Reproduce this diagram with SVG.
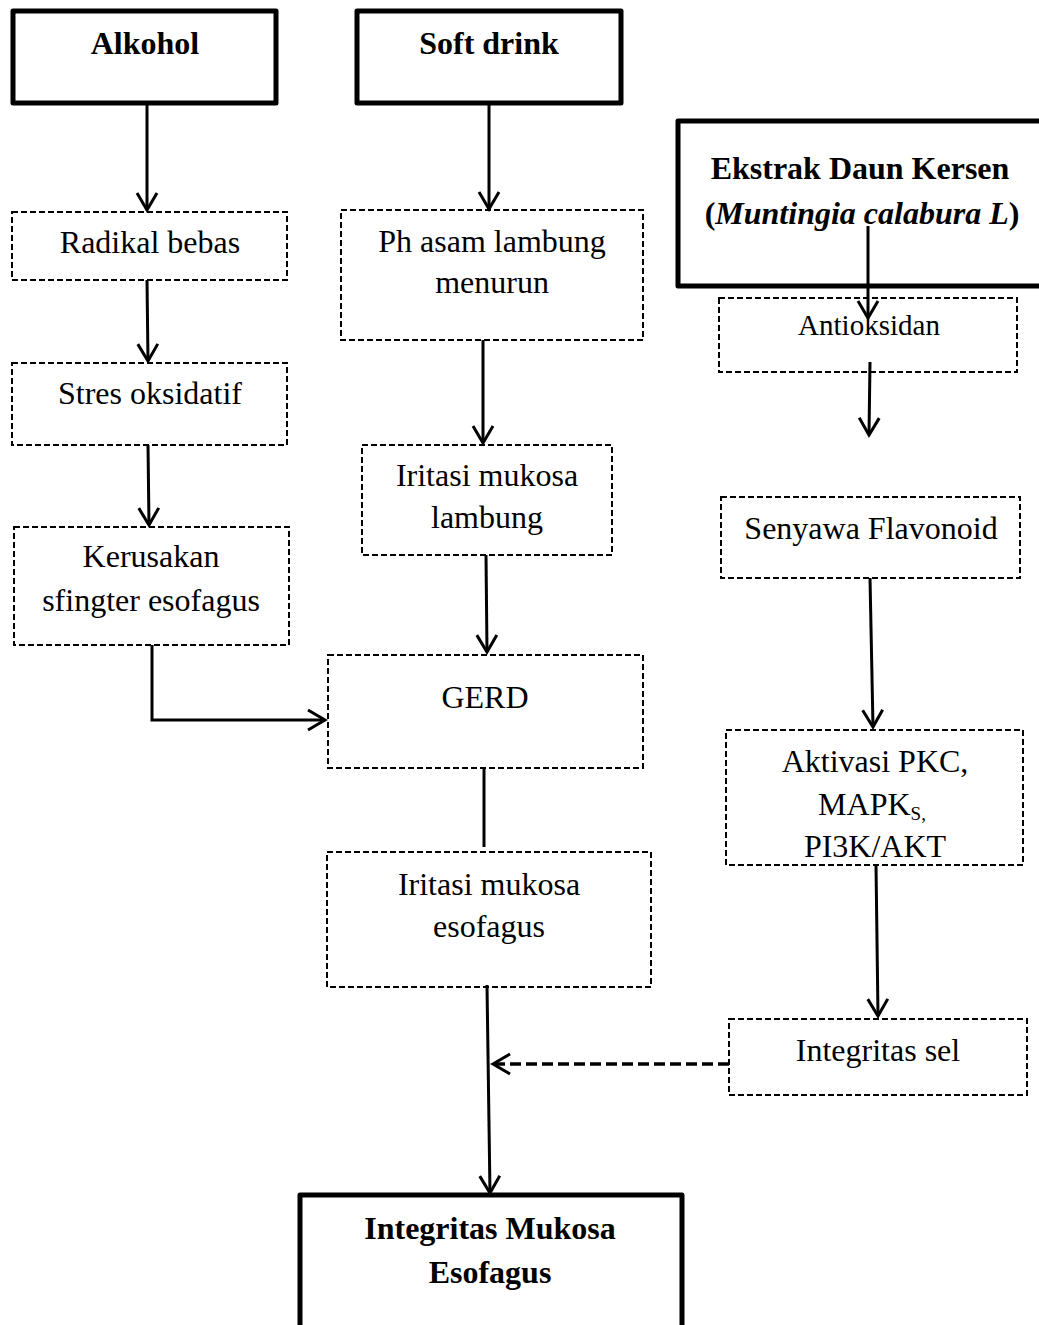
<svg xmlns="http://www.w3.org/2000/svg" width="1039" height="1325" viewBox="0 0 1039 1325">
<style>
.thick{fill:#fff;stroke:#000;stroke-width:5;stroke-linejoin:round}
.dash{fill:#fff;stroke:#000;stroke-width:2;stroke-dasharray:6,3}
.t{font-family:"Liberation Serif","Times New Roman",serif;font-size:32px;fill:#000;text-anchor:middle}
.b{font-weight:bold}
.s{font-size:29px}
.c{fill:none;stroke:#000;stroke-width:3}
.cd{fill:none;stroke:#000;stroke-width:3.5;stroke-dasharray:11,5}
</style>
<defs>
<marker id="ah" markerUnits="userSpaceOnUse" markerWidth="24" markerHeight="24" viewBox="0 0 24 24" refX="20" refY="12" orient="auto">
<path d="M3,2 L20,12 L3,22" fill="none" stroke="#000" stroke-width="3"/>
</marker>
</defs>
<g id="alkohol"><rect class="thick" x="13" y="11" width="263" height="92"/><text class="t b" x="145" y="54">Alkohol</text></g>
<g id="softdrink"><rect class="thick" x="357" y="11" width="264" height="92"/><text class="t b" x="489" y="54">Soft drink</text></g>
<g id="ekstrak"><rect class="thick" x="678" y="121" width="366" height="165"/><text class="t b" x="860" y="179">Ekstrak Daun Kersen</text><text class="t b" x="862" y="224">(<tspan font-style="italic">Muntingia calabura L</tspan>)</text></g>
<g id="radikal"><rect class="dash" x="12" y="212" width="275" height="68"/><text class="t" x="150" y="253">Radikal bebas</text></g>
<g id="stres"><rect class="dash" x="12" y="363" width="275" height="82"/><text class="t" x="150" y="404">Stres oksidatif</text></g>
<g id="kerusakan"><rect class="dash" x="14" y="527" width="275" height="118"/><text class="t" x="151" y="567">Kerusakan</text><text class="t" x="151" y="611">sfingter esofagus</text></g>
<g id="ph"><rect class="dash" x="341" y="210" width="302" height="130"/><text class="t" x="492" y="252">Ph asam lambung</text><text class="t" x="492" y="293">menurun</text></g>
<g id="iritasilambung"><rect class="dash" x="362" y="445" width="250" height="110"/><text class="t" x="487" y="486">Iritasi mukosa</text><text class="t" x="487" y="528">lambung</text></g>
<g id="gerd"><rect class="dash" x="328" y="655" width="315" height="113"/><text class="t" x="485" y="708">GERD</text></g>
<g id="iritasiesofagus"><rect class="dash" x="327" y="852" width="324" height="135"/><text class="t" x="489" y="895">Iritasi mukosa</text><text class="t" x="489" y="937">esofagus</text></g>
<g id="integritasmukosa"><rect class="thick" x="300" y="1195" width="382" height="140"/><text class="t b" x="490" y="1239">Integritas Mukosa</text><text class="t b" x="490" y="1283">Esofagus</text></g>
<g id="antioksidan"><rect class="dash" x="719" y="298" width="298" height="74"/><text class="t s" x="869" y="335">Antioksidan</text></g>
<g id="flavonoid"><rect class="dash" x="721" y="497" width="299" height="81"/><text class="t" x="871" y="539">Senyawa Flavonoid</text></g>
<g id="aktivasi"><rect class="dash" x="726" y="730" width="297" height="135"/><text class="t" x="875" y="772">Aktivasi PKC,</text><text class="t" x="872" y="815">MAPK<tspan font-size="19" dy="5">S,</tspan></text><text class="t" x="875" y="857">PI3K/AKT</text></g>
<g id="integritassel"><rect class="dash" x="729" y="1019" width="298" height="76"/><text class="t" x="878" y="1061">Integritas sel</text></g>
<g id="connectors">
<line class="c" x1="147" y1="104" x2="147" y2="210" marker-end="url(#ah)"/>
<line class="c" x1="147" y1="280" x2="148" y2="361" marker-end="url(#ah)"/>
<line class="c" x1="148" y1="445" x2="149" y2="525" marker-end="url(#ah)"/>
<polyline class="c" points="152,645 152,720 325,720" marker-end="url(#ah)"/>
<line class="c" x1="489" y1="104" x2="489" y2="209" marker-end="url(#ah)"/>
<line class="c" x1="483" y1="340" x2="483" y2="443" marker-end="url(#ah)"/>
<line class="c" x1="486" y1="555" x2="487" y2="652" marker-end="url(#ah)"/>
<line class="c" x1="484" y1="768" x2="484" y2="847"/>
<line class="c" x1="487" y1="985" x2="490" y2="1193" marker-end="url(#ah)"/>
<line class="c" x1="868" y1="226" x2="868" y2="318" marker-end="url(#ah)"/>
<line class="c" x1="870" y1="362" x2="869" y2="435" marker-end="url(#ah)"/>
<line class="c" x1="870" y1="578" x2="873" y2="727" marker-end="url(#ah)"/>
<line class="c" x1="876" y1="865" x2="878" y2="1016" marker-end="url(#ah)"/>
<line class="cd" x1="729" y1="1064" x2="493" y2="1064" marker-end="url(#ah)"/>
</g>
</svg>
